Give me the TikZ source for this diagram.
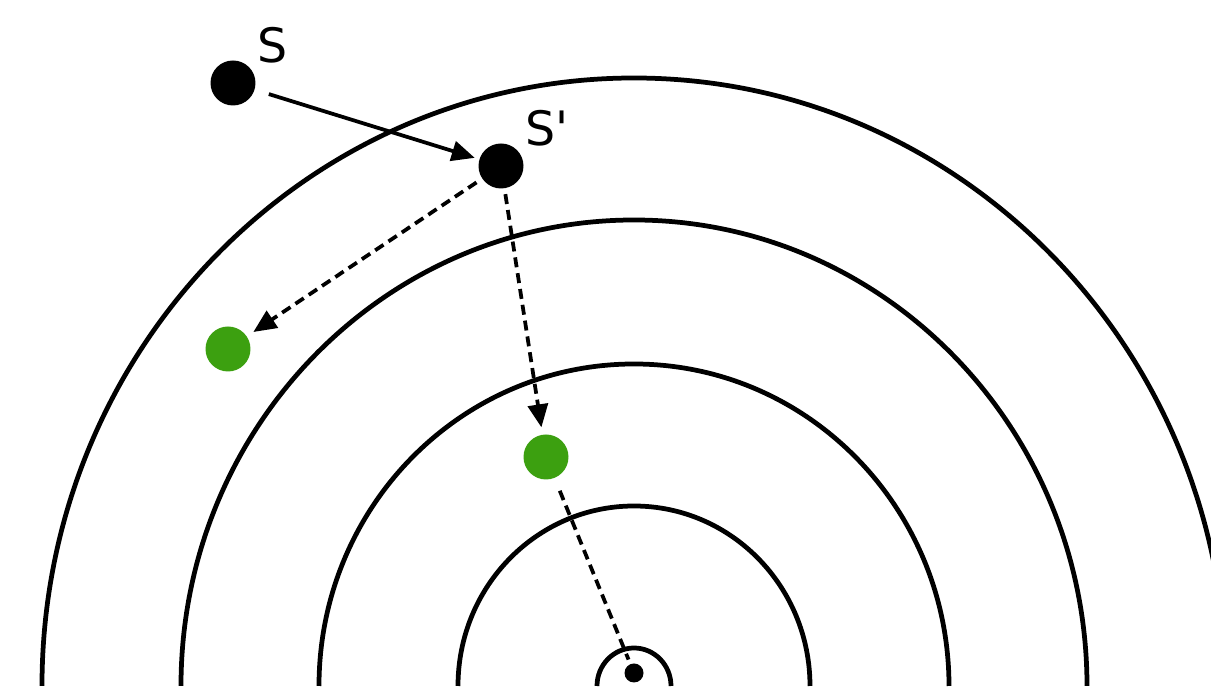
\documentclass[tikz,border=0pt]{standalone}
\usepackage{fontspec}
\newfontfamily\labelfont{DejaVu Sans}
\usetikzlibrary{arrows.meta,positioning}
\definecolor{leafgreen}{RGB}{60,160,16}

\begin{document}
\begin{tikzpicture}[
  x=0.02cm, y=0.02cm,
  ring/.style={line width=0.095cm},
  src/.style={circle, fill=black, inner sep=0pt, outer sep=0pt,
              minimum size=0.9cm},
  img/.style={src, fill=leafgreen},
  lbl/.style={font=\labelfont\fontsize{27}{32}\selectfont, inner sep=0pt},
  move/.style={-{Triangle[length=0.46cm, width=0.4cm]}, line width=0.075cm},
  dashmove/.style={move, dash pattern=on 0.2cm off 0.12cm}
]
  \useasboundingbox (0,0) rectangle (1211,692);
  \clip (0,0) rectangle (1211,692);
  % rings round the centre
  \foreach \rx/\ry in {592/608, 453/466, 315/322, 176/180, 37/38}
    \draw[ring] (634-\rx,6) arc[start angle=180, end angle=0,
                                x radius=\rx, y radius=\ry];
  \node[src] (S) at (233,609) {};
  \node[src] (Sp) at (501,526) {};
  \node[img] (G1) at (228,343) {};
  \node[img] (G2) at (546,235) {};
  \node[src, minimum size=0.38cm] (O) at (634,19) {};
  \node[lbl] (lS) at (273,647) {S};
  \node[lbl] (lSp) at (547,564) {S'};
  \draw[move, shorten <=0.3cm, shorten >=0.1cm] (S) -- (Sp);
  \draw[dashmove, shorten <=0.14cm, shorten >=0.16cm] (Sp) -- (G1);
  \draw[dashmove, shorten <=0.12cm, shorten >=0.15cm] (Sp) -- (G2);
  \draw[dashmove, -, shorten <=0.28cm, shorten >=0.1cm] (G2) -- (O);
\end{tikzpicture}
\end{document}
